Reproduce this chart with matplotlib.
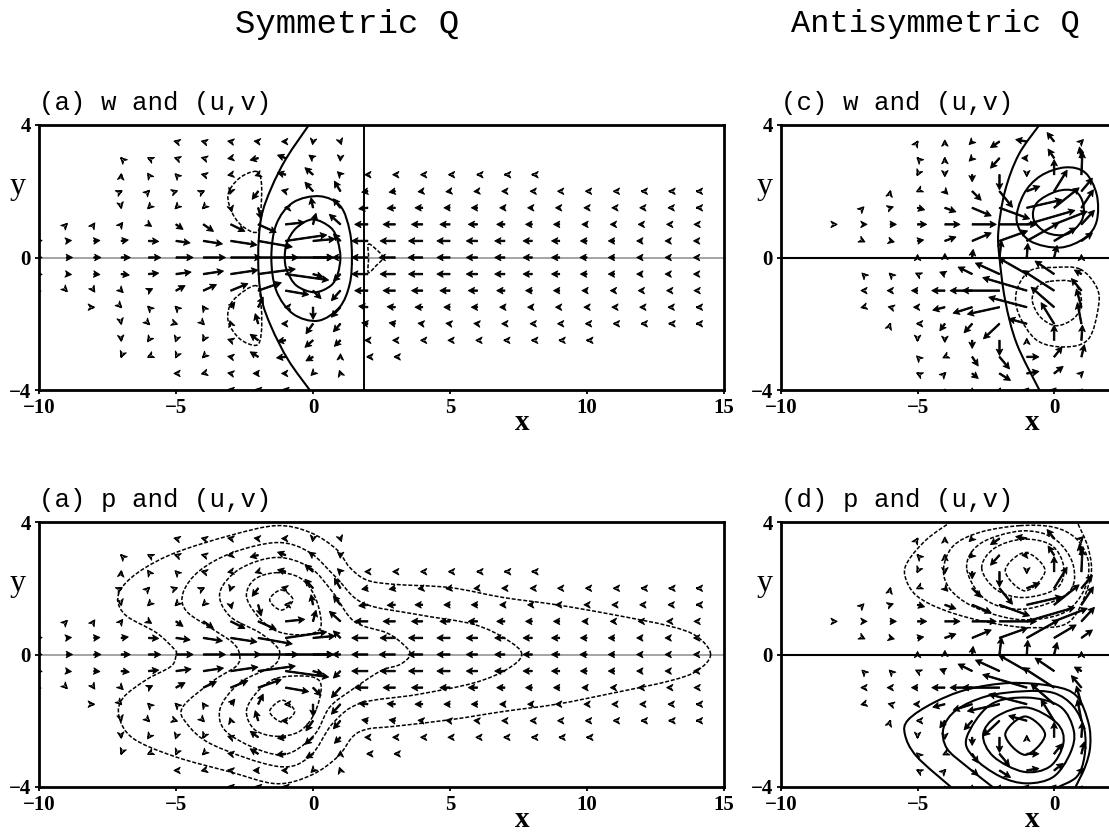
import numpy as np
import matplotlib
matplotlib.use('Agg')
import matplotlib.pyplot as plt
from matplotlib.path import Path
from matplotlib.patches import PathPatch

n = np.nan

# vector grid, values (arrow lengths in pixels)
y_rows = [3.5, 3, 2.5, 2, 1.5, 1, 0.5, 0, -0.5, -1, -1.5, -2, -2.5, -3, -3.5, -4]
x_sym = list(range(-10, 15))
x_anti = list(range(-8, 2))

u_sym = [
    [n, n, n, n, n, -2, -2, -3, -4, -4, -.5, 1] + [n] * 13,
    [n, n, n, -.5, -1, -1.5, -2, -3, -8, -8, -4, -.2] + [n] * 13,
    [n, n, n, .1, -1, -1, -2, -3, -3, -8, -8, -3, -3, -2.5, -2, -1.5, -.5, -.2, -.2] + [n] * 6,
    [n, n, n, 1, 1, 1.5, 1, -1, -6, -4, -8, -6, -6, -6, -4.5, -4, -3.5, -3, -2, -2, -1.5, -1, -.5, -.2, -.2],
    [n, n, n, .1, -1, -1, -1, 1, 3, -1, -2, -7, -9, -8, -7.5, -6, -6, -5, -4.5, -4, -3, -2.5, -2, -1, -.2],
    [1, 1, 1, 1.5, 3, 7, 10, 14, 18, 19, 3, -11, -13, -12, -11, -10, -9, -8, -6.5, -6, -5, -4, -3.5, -2.5, -2.5],
    [3, 5, 6, 7, 10, 14, 19, 26, 34, 41, 22, -7, -16, -15, -14, -13, -11, -10, -9, -8, -6.5, -6, -5, -4, -3],
    [3, 6, 7, 9, 12, 17, 22, 30, 40, 48, 20, -8, -16, -16, -14.5, -13, -11, -10, -9, -8, -7, -6, -5, -4, -3],
    [3, 5, 6, 8, 10, 15, 20, 27, 37, 43, 10, -7, -16, -15, -14, -13, -11, -10, -9, -8, -6.5, -6, -5, -4, -3],
    [2, 1, 1, 2, 4, 9, 13, 17, 23, 23, 8, -9, -13, -12, -11, -10, -9, -8, -6.5, -6, -5, -4, -3.5, -2.5, -2.5],
    [n, n, .5, .5, -1, -1, -1, 4, 5, -1, .1, -9, -9, -8, -7.5, -6, -6, -5, -4.5, -4, -3, -2.5, -2, -1, -.2],
    [n, n, n, .1, 1, 1.5, 1, -1, -3, -4, -7, -7, -6, -6, -4.5, -4, -3.5, -3, -2, -2, -1.5, -1, -.5, -.2, -.2],
    [n, n, n, .1, -1, -.5, -.5, -3, -8, -8, -8, -6, -3, -2.5, -2, -2, -1.5, -1, -.5, -.5, -.2, n, n, n, n],
    [n, n, n, -.2, -1, -.5, -1, -3, -8, -9, -7, .1, -1, -1] + [n] * 11,
    [n, n, n, n, n, -2, -2, -3, -5, -4, -2, -1] + [n] * 13,
    [n] * 7 + [-3, -3, -3] + [n] * 15,
]
v_sym = [
    [n, n, n, n, n, .5, .5, .5, .5, 0, -3, -3] + [n] * 13,
    [n, n, n, .5, .5, .5, .5, -.5, -2, 3, 3, -3] + [n] * 13,
    [n, n, n, 1, 1.5, 1, .5, -.5, -1, 2, 7, 3, 0, 0, 0, 0, 0, 0, 0] + [n] * 6,
    [n, n, n, .5, 1, .5, .5, -3, -8, 1, 9, 10, -1, -1, -.5, -.5, -.3, 0, 0, 0, 0, 0, 0, 0, 0],
    [n, n, n, -.5, -1, -1, -1, -4, -11, 0, 10, 9, -1, -.5, 0, 0, 0, 0, 0, 0, 0, 0, 0, 0, 0],
    [.5, 1, 1.5, 2, -2, -5, -7, -7, -8, 2, 11, 10, 0, 0, 0, 0, 0, 0, 0, 0, 0, 0, 0, 0, 0],
    [.5, .5, .5, 1, -.5, -2, -3, -4, -6, 6, 2, 7, 0, 0, 0, 0, 0, 0, 0, 0, 0, 0, 0, 0, 0],
    [0] * 25,
    [-.5, -.5, -.5, -1, 1, 2, 3, 4, 5, -6, -3, -7, 0, 0, 0, 0, 0, 0, 0, 0, 0, 0, 0, 0, 0],
    [-.5, -1, -1.5, -2, 2, 5, 6, 7, 8, -4, -8, -10, 0, 0, 0, 0, 0, 0, 0, 0, 0, 0, 0, 0, 0],
    [n, n, 0, -.5, 1, 1, 1.5, 5, 10, 0, -12, -10, 1, .5, 0, 0, 0, 0, 0, 0, 0, 0, 0, 0, 0],
    [n, n, n, -.5, -1, -.5, -1, 3, 10, 0, -10, -8, 1, 1, .5, .5, .3, 0, 0, 0, 0, 0, 0, 0, 0],
    [n, n, n, -1, -1.5, -1.5, -1, 1, 6, -1, -7, -6, 0, 0, 0, 0, 0, 0, 0, 0, 0, n, n, n, n],
    [n, n, n, -.5, -.5, -1, -1, .5, 5, -1, -4, 3, 0, 0] + [n] * 11,
    [n, n, n, n, n, 0, -.5, .5, 0, 0, -2, 3] + [n] * 13,
    [n] * 7 + [.5, .5, .5] + [n] * 15,
]

u_anti = [
    [n, n, n, .3, 0, -3, -9, -11, -7, 2],
    [n, n, n, -.5, 0, -3, -9, -5, -6, -2],
    [n, n, n, -.5, 0, 0, 0, 0, 0, 1],
    [n, n, .1, -1, 3, 9, 13, 13, 13, 11],
    [n, 1, 3, 7, 11, 19, 30, 35, 25, 12],
    [1.5, 4, 6, 9, 15, 24, 37, 48, 33, 13],
    [n, 2, 4, 6, 11, 19, 28, 32, 22, 11],
    [n, n, n, 0, 0, 1, 2, 1, 3, 0],
    [n, -1, -1, -2, -5, -14, -24, -28, -19, -7],
    [n, -2, -3, -6, -13, -22, -37, -44, -31, -10],
    [n, -2, -2, -4, -12, -19, -32, -38, -23, -5],
    [n, n, .1, -1, -5, -8, -16, -18, -13, -4],
    [n, n, n, 0, 0, 0, 0, 0, 0, 1],
    [n, n, n, -1, -2, 6, 10, 12, 8, 3],
    [n, n, n, -1, 1, 6, 11, 12, 9, 2],
    [n, n, n, n, 0, 0, 1, 2, 2, 1],
]
v_anti = [
    [n, n, n, .5, 1.5, -3, -6, 2, 9, 2],
    [n, n, n, .5, .5, -3, -10, 0, 9, 11],
    [n, n, n, -1, -2, -7, -15, -2, 15, 23],
    [n, n, .5, -.5, -3, -9, -16, 5, 21, 13],
    [n, 1, 1, -2, -4, -8, -11, 8, 20, 18],
    [0, 0, 0, 0, 0, 0, 0, 14, 13, 14],
    [n, -1, -1, 1, 4, 8, 10, 18, 13, 8],
    [n, n, n, 3, 4, 8, 17, 14, 12, 3],
    [n, 1, 1, 1, 2, 7, 11, 16, 13, 4],
    [n, 0, 0, 0, 0, 0, 0, 13, 20, 12],
    [n, -.5, .5, 0, -3, -6, -7, 10, 20, 18],
    [n, n, .3, 0, -7, -9, -15, 5, 21, 21],
    [n, n, n, -1, -2, -8, -15, 2, 15, 15],
    [n, n, n, 1, -1, -9, -12, 0, 10, 12],
    [n, n, n, .5, 1, -5, -7, 2, 7, 2],
    [n, n, n, n, 1, 2, 2, 2, 2, 1],
]

# contour outlines: (x, y) pairs
w_sym_arc = [(-0.15, 4), (-0.97, 3), (-1.52, 2.1), (-1.89, 1.2), (-2.0, 0), (-1.89, -1.2), (-1.52, -2.1), (-0.9, -3.1), (-0.12, -4)]
w_sym_line = [(1.85, 4), (1.85, -4)]
w_sym_solid = [
    [(0.24, 1.85), (1.0, 1.55), (1.34, 0.8), (1.42, 0), (1.34, -0.8), (0.97, -1.5), (0.18, -1.91), (-0.73, -1.7), (-1.34, -1.0), (-1.52, 0), (-1.34, 1), (-0.73, 1.66)],
    [(0, 1.15), (0.65, 0.9), (0.9, 0.5), (1.0, 0), (0.9, -0.5), (0.65, -0.85), (0.06, -1.05), (-0.6, -0.85), (-0.95, -0.4), (-1.03, 0), (-0.95, 0.45), (-0.6, 0.9)],
]
w_sym_dash = [
    [(-2.07, 2.6), (-1.89, 2.3), (-1.89, 1.6), (-2.0, 0.8), (-2.5, 0.9), (-2.92, 1.3), (-3.1, 1.9), (-2.68, 2.4)],
    [(-2.07, -0.85), (-2.92, -1.3), (-3.1, -1.9), (-2.68, -2.45), (-2.07, -2.65), (-1.89, -2.3), (-1.89, -1.5)],
    [(2.02, 0.4), (2.3, 0.25), (2.55, 0), (2.3, -0.25), (2.02, -0.45), (2.03, 0)],
]

w_anti_arc = [(-0.54, 4), (-1.3, 3.1), (-1.8, 2.0), (-2.04, 0.8), (-2.0, 0), (-1.79, -1.3), (-1.37, -2.6), (-0.54, -4)]
w_anti_solid = [
    [(0.4, 2.72), (1.14, 2.56), (1.56, 1.9), (1.56, 1.1), (1.14, 0.6), (0.22, 0.3), (-0.88, 0.5), (-1.37, 1.1), (-1.12, 1.9), (-0.5, 2.46)],
    [(0.1, 2.0), (0.77, 2), (1.07, 1.6), (1.0, 1.1), (0.46, 0.7), (-0.27, 0.75), (-0.75, 1.15), (-0.63, 1.65)],
]
w_anti_dash = [
    [(0.95, -0.35), (1.56, -0.9), (1.62, -1.5), (1.26, -2.46), (0.4, -2.7), (-0.63, -2.5), (-1.3, -1.7), (-1.37, -1.0), (-0.88, -0.4), (0, -0.3)],
    [(-0.15, -0.72), (0.7, -0.75), (1.0, -1.3), (0.77, -1.8), (0.1, -2.06), (-0.5, -1.8), (-0.8, -1.3), (-0.63, -0.9)],
]

p_sym_dash = [
    [(14.51, 0), (14.0, 0.55), (13.0, 0.86), (10.97, 1.2), (8.9, 1.5), (6.95, 1.72), (5.0, 2.02), (2.94, 2.12), (1.96, 2.25), (1.34, 2.63), (0.85, 3.18), (-0.12, 3.69), (-1.34, 3.89), (-3.04, 3.59), (-5, 3.08), (-6.2, 2.58), (-6.93, 2.07), (-7.12, 1.62), (-6.8, 1.16), (-5.72, 0.66), (-5.05, 0.15), (-5, 0), (-5.17, -0.35), (-6.08, -0.76), (-6.93, -1.31), (-7.08, -1.87), (-6.57, -2.53), (-5.05, -3.08), (-3.04, -3.54), (-1.34, -3.9), (-0.06, -3.64), (0.91, -3.08), (1.46, -2.47), (2.0, -2.25), (2.94, -2.17), (5.0, -1.97), (6.95, -1.72), (8.9, -1.5), (10.97, -1.16), (13, -0.8), (14, -0.5)],
    [(7.62, 0), (7.07, 0.45), (5.86, 0.91), (3.79, 1.21), (1.83, 1.55), (0.85, 2.32), (-0.12, 3.08), (-1.28, 3.38), (-2.92, 3.08), (-4.14, 2.53), (-4.74, 1.87), (-4.62, 1.31), (-3.65, 0.76), (-2.92, 0.35), (-2.68, 0), (-2.8, -0.35), (-3.65, -0.8), (-4.74, -1.57), (-4.62, -2.07), (-3.65, -2.73), (-1.28, -3.38), (-0.12, -3.08), (0.73, -2.07), (1.74, -1.47), (3.79, -1.21), (5.86, -0.86), (7.07, -0.45)],
    [(3.55, 0), (3.3, 0.3), (2.7, 0.65), (1.5, 1.0), (0.73, 1.87), (-0.12, 2.63), (-1.34, 2.93), (-2.68, 2.58), (-3.4, 1.87), (-3.04, 1.16), (-1.95, 0.66), (-1.34, 0.25), (-1.22, 0), (-1.46, -0.35), (-2.68, -0.86), (-3.4, -1.67), (-3.04, -2.42), (-1.22, -3.03), (0, -2.47), (0.6, -1.6), (1.36, -1.1), (2.46, -0.5), (3.18, -0.3)],
    [(-1.34, 2.47), (-0.49, 2.32), (0.06, 1.77), (0.3, 0.96), (0.06, 0.66), (-0.73, 0.6), (-1.46, 0.76), (-2.07, 1.21), (-2.43, 1.77), (-2.13, 2.27)],
    [(-1.34, -2.47), (-0.49, -2.32), (0.06, -1.77), (0.3, -1.0), (0.06, -0.7), (-0.73, -0.65), (-1.46, -0.76), (-2.07, -1.16), (-2.43, -1.72), (-2.13, -2.27)],
    [(-1.16, 1.95), (-0.73, 1.65), (-1.16, 1.34), (-1.58, 1.65)],
    [(-1.12, -1.38), (-0.67, -1.72), (-1.12, -2.04), (-1.58, -1.72)],
]

p_anti_dash = [
    [(-3.75, 4.02), (-4.66, 3.48), (-5.34, 2.83), (-5.46, 2.37), (-5.03, 1.77), (-3.93, 1.31), (-2.34, 0.96), (-0.76, 0.81), (0.59, 1.01), (1.32, 2.27), (1.26, 3.18), (0.83, 4.02)],
    [(-1.25, 3.89), (-2.71, 3.69), (-3.69, 3.28), (-4.05, 2.58), (-3.81, 1.97), (-3.0, 1.46), (-1.73, 1.11), (-0.63, 1.06), (0.46, 1.31), (1.11, 1.97), (1.26, 2.78), (0.83, 3.48), (0, 3.84)],
    [(-3.2, 2.6), (-2.7, 3.35), (-1.2, 3.73), (0, 3.5), (0.7, 2.7), (0.5, 1.85), (-1.1, 1.37), (-2.5, 1.65)],
    [(-2.65, 2.6), (-2.2, 3.2), (-1.15, 3.48), (-0.1, 3.3), (0.35, 2.65), (0.1, 2.0), (-1.1, 1.72), (-2.1, 1.95)],
    [(-1.06, 3.08), (-0.33, 2.53), (-1.06, 1.92), (-1.79, 2.53)],
]
p_anti_solid_open = [
    [(-3.75, -4.02), (-5.03, -3.08), (-5.46, -2.42), (-5.34, -1.97), (-4.42, -1.46), (-3.2, -1.06), (-1.61, -0.86), (-0.02, -0.96), (0.83, -1.26), (1.26, -2.07), (1.32, -2.78), (1.14, -3.38), (0.77, -4.02)],
    [(-2.22, -4.02), (-3.2, -3.38), (-3.93, -2.83), (-4.05, -2.22), (-3.57, -1.67), (-2.47, -1.26), (-1.12, -1.11), (-0.02, -1.16), (0.71, -1.57), (1.11, -2.27), (1.11, -3.08), (0.83, -3.69), (0.1, -4.02)],
]
p_anti_solid = [
    [(-3.2, -2.5), (-2.95, -3.1), (-1.98, -3.68), (-1.0, -3.89), (-0.02, -3.69), (0.59, -2.98), (0.72, -2.3), (0.22, -1.57), (-1.0, -1.3), (-2.34, -1.52)],
    [(-2.6, -2.42), (-2.22, -3.08), (-1.12, -3.54), (-0.15, -3.38), (0.34, -2.68), (0.1, -2.07), (-1.0, -1.6), (-2.1, -1.87)],
    [(-1.06, -1.87), (-0.33, -2.42), (-1.06, -3.03), (-1.79, -2.42)],
]

titles = ['(a) w and (u,v)', '(c) w and (u,v)', '(a) p and (u,v)', '(d) p and (u,v)']
x_ticks_left = [-10, -5, 0, 5, 10, 15]
x_ticks_right = [-10, -5, 0]
y_ticks = [-4, 0, 4]

plt.rcParams['font.family'] = ['Liberation Mono', 'DejaVu Sans Mono']
W, H = 1109, 832
DASH = (0, (2.6, 1.2))
SERIF = 'Liberation Serif'


def smooth_path(pts, closed):
    # catmull-rom through the read points so the outlines are not polygonal
    p = np.array(pts, dtype=float)
    if closed:
        p = np.vstack([p[-1], p, p[0], p[1]])
    else:
        p = np.vstack([p[0], p, p[-1]])
    verts = [p[1]]
    codes = [Path.MOVETO]
    for i in range(1, len(p) - 2):
        verts += [p[i] + (p[i + 1] - p[i - 1]) / 6, p[i + 1] - (p[i + 2] - p[i]) / 6, p[i + 1]]
        codes += [Path.CURVE4] * 3
    return Path(verts, codes)


def outline(ax, pts, closed=True, dashed=False):
    ls = DASH if dashed else '-'
    lw = 1.1 if dashed else 1.5
    ax.add_patch(PathPatch(smooth_path(pts, closed), fill=False, ec='k', lw=lw, ls=ls, zorder=2))


def vectors(ax, xs, u, v):
    X, Y = np.meshgrid(xs, y_rows)
    ax.quiver(X, Y, np.ma.masked_invalid(u), np.ma.masked_invalid(v), angles='uv', scale_units='dots', scale=1,
              units='dots', width=1.4, headwidth=4.6, headlength=4.4, headaxislength=3.4, minshaft=0, minlength=0,
              pivot='tail', color='k', edgecolor='k', linewidth=0.7, zorder=3)


def make_axes(left, top, right, bottom, xlim, xticks, title, label_y):
    ax = fig.add_axes([left / W, 1 - bottom / H, (right - left) / W, (bottom - top) / H])
    ax.set_xlim(*xlim)
    ax.set_ylim(-4, 4)
    ax.set_xticks(xticks)
    ax.set_yticks(y_ticks)
    ax.set_xticklabels([str(t).replace('-', '\u2212') for t in xticks], fontweight='bold', fontsize=15, family=SERIF)
    ax.set_yticklabels([str(t).replace('-', '\u2212') for t in y_ticks], fontweight='bold', fontsize=15, family=SERIF)
    ax.tick_params(length=3, width=1.3, pad=3)
    for s in ax.spines.values():
        s.set_linewidth(2.0)
    fig.text(left / W, 1 - label_y / H, title, fontsize=18.5, ha='left', va='center')
    return ax


fig = plt.figure(figsize=(W / 100, H / 100), dpi=100)

fig.text(347 / W, 1 - 24 / H, 'Symmetric Q', fontsize=24.5, ha='center', va='center')
fig.text(935 / W, 1 - 24 / H, 'Antisymmetric Q', fontsize=23, ha='center', va='center')

ax_a = make_axes(39, 125, 724, 390, (-10, 15), x_ticks_left, titles[0], 103)
ax_c = make_axes(781, 125, 1109, 390, (-10, 2.01), x_ticks_right, titles[1], 103)
ax_b = make_axes(39, 522, 724, 787, (-10, 15), x_ticks_left, titles[2], 500)
ax_d = make_axes(781, 522, 1109, 787, (-10, 2.01), x_ticks_right, titles[3], 500)
ax_c.spines['right'].set_visible(False)
ax_d.spines['right'].set_visible(False)

ax_a.axhline(0, color='#8c8c8c', lw=1.1, zorder=1)
ax_b.axhline(0, color='#8c8c8c', lw=1.1, zorder=1)
ax_c.axhline(0, color='k', lw=1.5, zorder=1)
ax_d.axhline(0, color='k', lw=1.5, zorder=1)

for ax in (ax_a, ax_b):
    vectors(ax, x_sym, u_sym, v_sym)
for ax in (ax_c, ax_d):
    vectors(ax, x_anti, u_anti, v_anti)

outline(ax_a, w_sym_arc, closed=False)
ax_a.plot(*zip(*w_sym_line), color='k', lw=1.4, zorder=2)
for c in w_sym_solid:
    outline(ax_a, c)
for c in w_sym_dash:
    outline(ax_a, c, dashed=True)

outline(ax_c, w_anti_arc, closed=False)
for c in w_anti_solid:
    outline(ax_c, c)
for c in w_anti_dash:
    outline(ax_c, c, dashed=True)

for c in p_sym_dash:
    outline(ax_b, c, dashed=True)

for c in p_anti_dash[:1]:
    outline(ax_d, c, closed=False, dashed=True)
for c in p_anti_dash[1:]:
    outline(ax_d, c, dashed=True)
for c in p_anti_solid_open:
    outline(ax_d, c, closed=False)
for c in p_anti_solid:
    outline(ax_d, c)

# axis letters
for ax, xp, yp in ((ax_a, 7.63, -4.97), (ax_c, -0.8, -4.97), (ax_b, 7.63, -4.97), (ax_d, -0.8, -4.97)):
    ax.text(xp, yp, 'x', fontsize=21, fontweight='bold', family=SERIF, ha='center', va='center', clip_on=False)
for ax, xp in ((ax_a, -10.77), (ax_b, -10.77), (ax_c, -10.62), (ax_d, -10.62)):
    ax.text(xp, 2.15, 'y', fontsize=23, family=SERIF, ha='center', va='center', clip_on=False)

fig.savefig('out.png', dpi=100)
